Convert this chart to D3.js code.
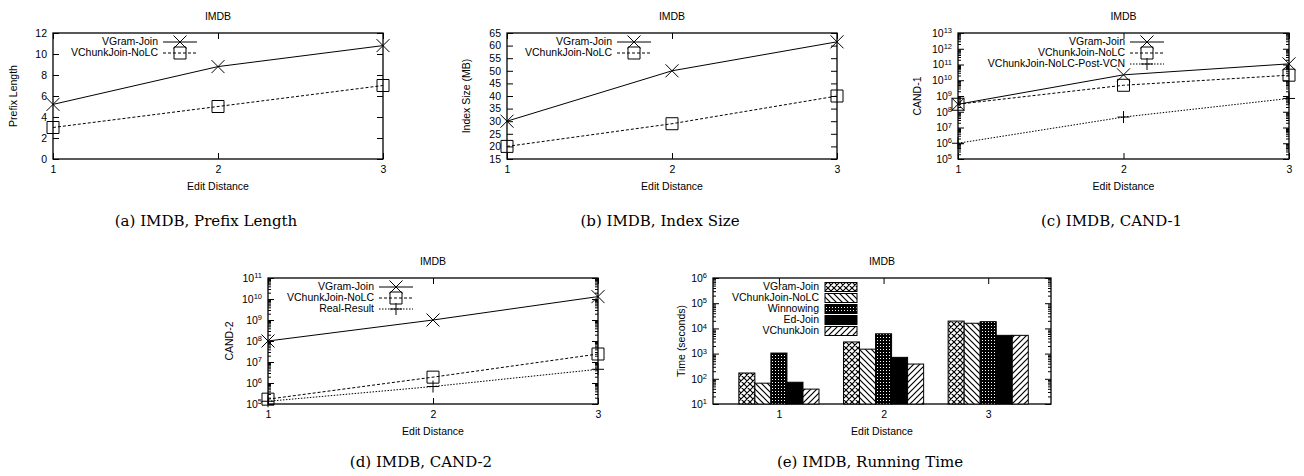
<!DOCTYPE html>
<html>
<head>
<meta charset="utf-8">
<script src="https://cdn.jsdelivr.net/npm/d3@7"></script>
<style>
body { margin: 0; background: #fff; }
text { font-family: "Liberation Sans", Arial, sans-serif; font-size: 10.5px; fill: #000; }
.cap { font-family: "DejaVu Serif", serif; font-size: 15px; }
.tick line { stroke: #000; }
</style>
</head>
<body>
<script>
// x values shared by every panel
var editDistances = [1, 2, 3];

// (a) prefix length
var prefixVGram = [5.2, 8.8, 10.8];
var prefixNoLC = [3, 5, 7];
var prefixTicks = [0, 2, 4, 6, 8, 10, 12];

// (b) index size (MB)
var indexVGram = [30, 50, 61.5];
var indexNoLC = [20, 29, 40];
var indexTicks = [15, 20, 25, 30, 35, 40, 45, 50, 55, 60, 65];

// (c) CAND-1
var cand1VGram = [3e8, 2.2e10, 1.1e11];
var cand1NoLC = [3e8, 4.8e9, 2.1e10];
var cand1PostVCN = [1e6, 4.6e7, 7e8];
var cand1Exps = [5, 6, 7, 8, 9, 10, 11, 12, 13];

// (d) CAND-2
var cand2VGram = [1e8, 1e9, 1.3e10];
var cand2NoLC = [1.7e5, 1.9e6, 2.4e7];
var cand2Real = [1.35e5, 6.8e5, 4.5e6];
var cand2Exps = [5, 6, 7, 8, 9, 10, 11];

// (e) running time (seconds)
var timeSeries = ['VGram-Join', 'VChunkJoin-NoLC', 'Winnowing', 'Ed-Join', 'VChunkJoin'];
var timeVGram = [170, 2900, 19500];
var timeNoLC = [67, 1500, 16000];
var timeWinnowing = [1050, 6100, 18500];
var timeEdJoin = [73, 710, 5300];
var timeVChunk = [39, 385, 5300];
var timeExps = [1, 2, 3, 4, 5, 6];

var svg = d3.select('body').append('svg')
    .attr('width', 1304)
    .attr('height', 476);

// fill patterns for the bars
var defs = svg.append('defs');
function pattern(id, size, draw) {
    var p = defs.append('pattern')
        .attr('id', id)
        .attr('patternUnits', 'userSpaceOnUse')
        .attr('width', size).attr('height', size);
    p.append('rect').attr('width', size).attr('height', size).attr('fill', '#fff');
    draw(p);
}
pattern('xhatch', 6, function (p) {
    p.append('path').attr('d', 'M0,0L6,6M6,0L0,6M-1,5L1,7M5,-1L7,1M-1,1L1,-1M5,7L7,5')
        .attr('stroke', '#000').attr('stroke-width', 1.2);
});
pattern('back', 6, function (p) {
    p.append('path').attr('d', 'M0,0L6,6M-1,5L1,7M5,-1L7,1')
        .attr('stroke', '#000').attr('stroke-width', 1.2);
});
pattern('dense', 3, function (p) {
    p.append('rect').attr('width', 3).attr('height', 3).attr('fill', '#000');
    p.append('rect').attr('x', 1).attr('y', 1).attr('width', 1).attr('height', 1).attr('fill', '#fff');
});
pattern('fwd', 6, function (p) {
    p.append('path').attr('d', 'M0,6L6,0M-1,1L1,-1M5,7L7,5')
        .attr('stroke', '#000').attr('stroke-width', 1.2);
});
var timeFills = ['url(#xhatch)', 'url(#back)', 'url(#dense)', '#000', 'url(#fwd)'];

function marker(g, type, cx, cy) {
    var d;
    if (type === 'x') d = 'M-6.5,-6.5L6.5,6.5M-6.5,6.5L6.5,-6.5';
    else if (type === 'plus') d = 'M-6,0H6M0,-6V6';
    else d = 'M-6,-6H6V6H-6Z';
    g.append('path')
        .attr('transform', 'translate(' + cx + ',' + cy + ')')
        .attr('d', d)
        .attr('fill', 'none')
        .attr('stroke', '#000')
        .attr('stroke-width', 1);
}

function superLabels(sel) {
    sel.selectAll('.tick text').each(function (d) {
        var t = d3.select(this);
        t.text('10');
        t.append('tspan').attr('dy', '-0.5em').attr('font-size', '7.5px')
            .text(Math.round(Math.log10(d)));
    });
}

function logMinor(exps) {
    var out = [];
    for (var i = 0; i < exps.length - 1; i++)
        for (var k = 2; k <= 9; k++) out.push(k * Math.pow(10, exps[i]));
    return out;
}

// frame, axes, titles shared by all five panels
function drawFrame(p, x, y, xTicks, xFormat) {
    var g = svg.append('g');
    var yAxis = d3.axisLeft(y).tickValues(p.yTicks).tickSize(-6).tickPadding(6);
    if (p.log) yAxis.tickFormat(d3.format(''));
    var ya = g.append('g').attr('transform', 'translate(' + p.x0 + ',0)').call(yAxis);
    if (p.log) superLabels(ya);
    g.append('g').attr('transform', 'translate(' + p.x1 + ',0)')
        .call(d3.axisRight(y).tickValues(p.yTicks).tickSize(-6).tickFormat(''));
    if (p.log) {
        g.append('g').attr('transform', 'translate(' + p.x0 + ',0)')
            .call(d3.axisLeft(y).tickValues(logMinor(p.exps)).tickSize(-3).tickFormat(''));
        g.append('g').attr('transform', 'translate(' + p.x1 + ',0)')
            .call(d3.axisRight(y).tickValues(logMinor(p.exps)).tickSize(-3).tickFormat(''));
    }
    g.append('g').attr('transform', 'translate(0,' + p.y1 + ')')
        .call(d3.axisBottom(x).tickValues(xTicks).tickSize(-6).tickPadding(7).tickFormat(xFormat));
    g.append('g').attr('transform', 'translate(0,' + p.y0 + ')')
        .call(d3.axisTop(x).tickValues(xTicks).tickSize(-6).tickFormat(''));
    g.selectAll('.domain').remove();
    g.selectAll('.tick text').attr('font-size', null).attr('font-family', null);
    g.selectAll('.tick line').attr('stroke-width', 1);

    svg.append('rect')
        .attr('x', p.x0).attr('y', p.y0)
        .attr('width', p.x1 - p.x0).attr('height', p.y1 - p.y0)
        .attr('fill', 'none').attr('stroke', '#000').attr('stroke-width', 1.3);

    var cx = (p.x0 + p.x1) / 2;
    svg.append('text').attr('x', cx).attr('y', p.y0 - 16)
        .attr('text-anchor', 'middle').attr('dominant-baseline', 'middle').text('IMDB');
    svg.append('text').attr('x', cx).attr('y', p.y1 + 28)
        .attr('text-anchor', 'middle').attr('dominant-baseline', 'middle').text('Edit Distance');
    svg.append('text')
        .attr('transform', 'translate(' + (p.x0 + p.yTitleDx) + ',' + ((p.y0 + p.y1) / 2) + ') rotate(-90)')
        .attr('text-anchor', 'middle').attr('dominant-baseline', 'middle').text(p.yTitle);
    svg.append('text').attr('class', 'cap')
        .attr('x', cx - 12).attr('y', p.capY)
        .attr('text-anchor', 'middle').attr('dominant-baseline', 'middle').text(p.caption);
}

function drawLinePanel(p) {
    var x = d3.scaleLinear().domain([1, 3]).range([p.x0, p.x1]);
    var y = (p.log ? d3.scaleLog() : d3.scaleLinear()).domain(p.yDomain).range([p.y1, p.y0]);
    drawFrame(p, x, y, editDistances, d3.format('d'));

    var line = d3.line()
        .x(function (d, i) { return x(editDistances[i]); })
        .y(function (d) { return y(d); });
    var g = svg.append('g');
    p.series.forEach(function (s, i) {
        g.append('path').datum(s.values)
            .attr('d', line)
            .attr('fill', 'none').attr('stroke', '#000').attr('stroke-width', 1)
            .attr('stroke-dasharray', s.dash);
        s.values.forEach(function (v, j) { marker(g, s.marker, x(editDistances[j]), y(v)); });

        var ly = p.y0 + 9 + 11 * i, lx = p.x0 + p.legX;
        g.append('text').attr('x', lx).attr('y', ly)
            .attr('text-anchor', 'end').attr('dominant-baseline', 'middle').text(s.name);
        g.append('line').attr('x1', lx + 5).attr('x2', lx + 39).attr('y1', ly).attr('y2', ly)
            .attr('stroke', '#000').attr('stroke-dasharray', s.dash);
        marker(g, s.marker, lx + 22, ly);
    });
}

function drawBarPanel(p) {
    var x = d3.scaleLinear().domain([-0.63, 2.6]).range([p.x0, p.x1]);
    var inner = d3.scaleBand().domain(timeSeries).range([-0.383, 0.383]);
    var y = d3.scaleLog().domain(p.yDomain).range([p.y1, p.y0]);
    drawFrame(p, x, y, [0, 1, 2], function (i) { return editDistances[i]; });

    var g = svg.append('g');
    var bw = x(inner.bandwidth()) - x(0);
    p.series.forEach(function (vals, si) {
        g.selectAll(null).data(vals).enter().append('rect')
            .attr('x', function (d, i) { return x(i + inner(timeSeries[si])); })
            .attr('y', function (d) { return y(d); })
            .attr('width', bw)
            .attr('height', function (d) { return p.y1 - y(d); })
            .attr('fill', timeFills[si])
            .attr('stroke', '#000').attr('stroke-width', 1);

        var ly = p.y0 + 9 + 11 * si, lx = p.x0 + p.legX;
        g.append('text').attr('x', lx).attr('y', ly)
            .attr('text-anchor', 'end').attr('dominant-baseline', 'middle').text(timeSeries[si]);
        g.append('rect').attr('x', lx + 6).attr('y', ly - 4.5).attr('width', 32).attr('height', 9)
            .attr('fill', timeFills[si]).attr('stroke', '#000').attr('stroke-width', 1);
    });
}

var exps = function (e) { return e.map(function (k) { return Math.pow(10, k); }); };

drawLinePanel({
    x0: 53, x1: 383, y0: 33, y1: 159, capY: 222,
    yDomain: [0, 12], yTicks: prefixTicks, yTitle: 'Prefix Length', yTitleDx: -39,
    caption: '(a)  IMDB, Prefix Length', legX: 105,
    series: [
        { name: 'VGram-Join', values: prefixVGram, marker: 'x', dash: null },
        { name: 'VChunkJoin-NoLC', values: prefixNoLC, marker: 'box', dash: '3,2' }
    ]
});

drawLinePanel({
    x0: 507, x1: 837, y0: 33, y1: 159, capY: 222,
    yDomain: [15, 65], yTicks: indexTicks, yTitle: 'Index Size (MB)', yTitleDx: -40,
    caption: '(b)  IMDB, Index Size', legX: 105,
    series: [
        { name: 'VGram-Join', values: indexVGram, marker: 'x', dash: null },
        { name: 'VChunkJoin-NoLC', values: indexNoLC, marker: 'box', dash: '3,2' }
    ]
});

drawLinePanel({
    x0: 958, x1: 1289, y0: 33, y1: 159, capY: 222, log: true, exps: cand1Exps,
    yDomain: [1e5, 1e13], yTicks: exps(cand1Exps), yTitle: 'CAND-1', yTitleDx: -40,
    caption: '(c)  IMDB, CAND-1', legX: 167,
    series: [
        { name: 'VGram-Join', values: cand1VGram, marker: 'x', dash: null },
        { name: 'VChunkJoin-NoLC', values: cand1NoLC, marker: 'box', dash: '3,2' },
        { name: 'VChunkJoin-NoLC-Post-VCN', values: cand1PostVCN, marker: 'plus', dash: '1.5,1.5' }
    ]
});

drawLinePanel({
    x0: 268, x1: 598, y0: 278, y1: 404, capY: 463, log: true, exps: cand2Exps,
    yDomain: [1e5, 1e11], yTicks: exps(cand2Exps), yTitle: 'CAND-2', yTitleDx: -38,
    caption: '(d)  IMDB, CAND-2', legX: 106,
    series: [
        { name: 'VGram-Join', values: cand2VGram, marker: 'x', dash: null },
        { name: 'VChunkJoin-NoLC', values: cand2NoLC, marker: 'box', dash: '3,2' },
        { name: 'Real-Result', values: cand2Real, marker: 'plus', dash: '1.5,1.5' }
    ]
});

drawBarPanel({
    x0: 713, x1: 1051, y0: 278, y1: 404, capY: 463, log: true, exps: timeExps,
    yDomain: [10, 1e6], yTicks: exps(timeExps), yTitle: 'Time (seconds)', yTitleDx: -31,
    caption: '(e)  IMDB, Running Time', legX: 106,
    series: [timeVGram, timeNoLC, timeWinnowing, timeEdJoin, timeVChunk]
});
</script>
</body>
</html>
